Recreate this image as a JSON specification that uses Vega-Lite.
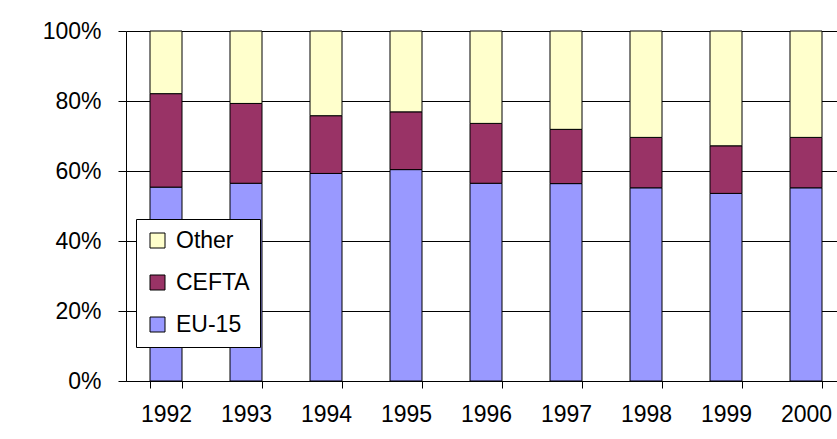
{
  "$schema": "https://vega.github.io/schema/vega-lite/v6.json",
  "autosize": "none",
  "width": 711,
  "height": 350,
  "padding": {"left": 126, "top": 31, "right": 0, "bottom": 58},
  "background": "white",
  "data": {
    "values": [
      {"year": "1992", "region": "EU-15", "share": 0.554},
      {"year": "1992", "region": "CEFTA", "share": 0.267},
      {"year": "1992", "region": "Other", "share": 0.179},
      {"year": "1993", "region": "EU-15", "share": 0.565},
      {"year": "1993", "region": "CEFTA", "share": 0.228},
      {"year": "1993", "region": "Other", "share": 0.207},
      {"year": "1994", "region": "EU-15", "share": 0.593},
      {"year": "1994", "region": "CEFTA", "share": 0.165},
      {"year": "1994", "region": "Other", "share": 0.242},
      {"year": "1995", "region": "EU-15", "share": 0.604},
      {"year": "1995", "region": "CEFTA", "share": 0.165},
      {"year": "1995", "region": "Other", "share": 0.231},
      {"year": "1996", "region": "EU-15", "share": 0.565},
      {"year": "1996", "region": "CEFTA", "share": 0.171},
      {"year": "1996", "region": "Other", "share": 0.264},
      {"year": "1997", "region": "EU-15", "share": 0.564},
      {"year": "1997", "region": "CEFTA", "share": 0.155},
      {"year": "1997", "region": "Other", "share": 0.281},
      {"year": "1998", "region": "EU-15", "share": 0.552},
      {"year": "1998", "region": "CEFTA", "share": 0.144},
      {"year": "1998", "region": "Other", "share": 0.304},
      {"year": "1999", "region": "EU-15", "share": 0.536},
      {"year": "1999", "region": "CEFTA", "share": 0.136},
      {"year": "1999", "region": "Other", "share": 0.328},
      {"year": "2000", "region": "EU-15", "share": 0.552},
      {"year": "2000", "region": "CEFTA", "share": 0.144},
      {"year": "2000", "region": "Other", "share": 0.304}
    ]
  },
  "transform": [
    {"calculate": "indexof(['EU-15','CEFTA','Other'], datum.region)", "as": "stackOrder"}
  ],
  "mark": {"type": "bar", "stroke": "black", "strokeWidth": 1},
  "encoding": {
    "x": {
      "field": "year",
      "type": "ordinal",
      "scale": {"range": [0, 720], "paddingInner": 0.6, "paddingOuter": 0.3},
      "axis": {
        "title": null,
        "labelAngle": 0,
        "tickBand": "extent",
        "tickSize": 7,
        "tickColor": "black",
        "domainColor": "black",
        "labelFont": "Liberation Sans",
        "labelFontSize": 23,
        "labelColor": "black",
        "labelPadding": 15,
        "grid": false
      }
    },
    "y": {
      "field": "share",
      "type": "quantitative",
      "stack": true,
      "scale": {"domain": [0, 1], "nice": false},
      "axis": {
        "title": null,
        "values": [0, 0.2, 0.4, 0.6, 0.8, 1],
        "format": ".0%",
        "tickSize": 8,
        "tickColor": "black",
        "domainColor": "black",
        "gridColor": "black",
        "gridOpacity": 1,
        "labelFont": "Liberation Sans",
        "labelFontSize": 23,
        "labelColor": "black",
        "labelPadding": 17
      }
    },
    "color": {
      "field": "region",
      "type": "nominal",
      "scale": {"domain": ["Other", "CEFTA", "EU-15"], "range": ["#FFFFCC", "#993366", "#9999FF"]},
      "legend": {
        "title": null,
        "orient": "none",
        "legendX": 10,
        "legendY": 188,
        "fillColor": "white",
        "strokeColor": "black",
        "padding": 10,
        "symbolType": "square",
        "symbolSize": 225,
        "symbolStrokeColor": "black",
        "symbolStrokeWidth": 1,
        "symbolOpacity": 1,
        "labelFont": "Liberation Sans",
        "labelFontSize": 23,
        "labelColor": "black",
        "labelOffset": 7,
        "rowPadding": 18
      }
    },
    "order": {"field": "stackOrder", "type": "quantitative"}
  },
  "config": {"view": {"stroke": null}}
}
